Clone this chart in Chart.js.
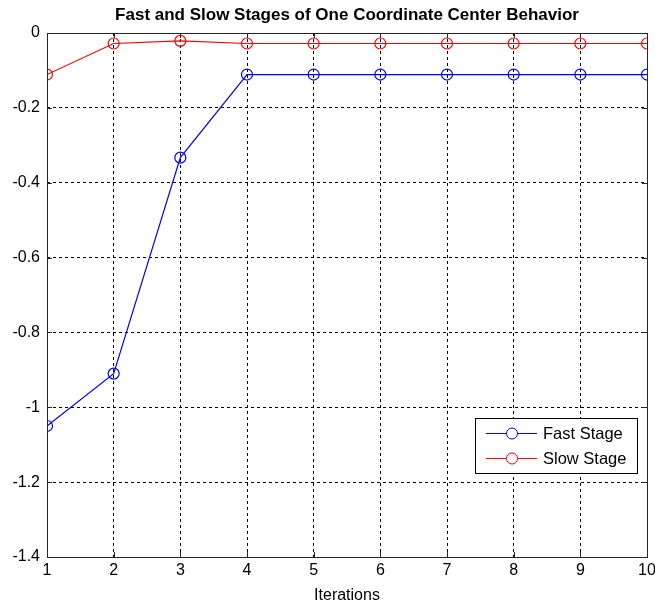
<!DOCTYPE html>
<html><head><meta charset="utf-8">
<script src="https://cdn.jsdelivr.net/npm/chart.js@4.4.1/dist/chart.umd.min.js"></script>
<style>html,body{margin:0;padding:0;background:#fff}#wrap{width:655px;height:605px}</style>
</head><body><div id="wrap"><canvas id="c" width="655" height="605"></canvas></div>
<script>
const iterations = [1,2,3,4,5,6,7,8,9,10];
const fastStage = [-1.05,-0.91,-0.333,-0.111,-0.111,-0.111,-0.111,-0.111,-0.111,-0.111];
const slowStage = [-0.111,-0.028,-0.021,-0.028,-0.028,-0.028,-0.028,-0.028,-0.028,-0.028];
const yTicks = [0,-0.2,-0.4,-0.6,-0.8,-1,-1.2,-1.4];
const titleText = 'Fast and Slow Stages of One Coordinate Center Behavior';
const xTitle = 'Iterations';
const seriesNames = ['Fast Stage','Slow Stage'];
const seriesColors = ['#0000ff','#ff0000'];

const FONT = '"Liberation Sans", Arial, sans-serif';

const bgPlugin = {
  id:'bg',
  beforeDraw(chart){const c=chart.ctx;c.save();c.fillStyle='#fff';c.fillRect(0,0,chart.width,chart.height);c.restore();}
};
const framePlugin = {
  id:'frame',
  afterDraw(chart){
    const c=chart.ctx, a=chart.chartArea, xs=chart.scales.x, ys=chart.scales.y;
    c.save();
    c.strokeStyle='#262626'; c.lineWidth=1; c.setLineDash([]);
    c.strokeRect(Math.round(a.left)+0.5, Math.round(a.top)+0.5, Math.round(a.right-a.left), Math.round(a.bottom-a.top));
    c.beginPath();
    iterations.forEach(v=>{const x=Math.round(xs.getPixelForValue(v))+0.5;
      c.moveTo(x,a.bottom);c.lineTo(x,a.bottom-5);c.moveTo(x,a.top);c.lineTo(x,a.top+5);});
    yTicks.forEach(v=>{const y=Math.round(ys.getPixelForValue(v))+0.5;
      c.moveTo(a.left,y);c.lineTo(a.left+5,y);c.moveTo(a.right,y);c.lineTo(a.right-5,y);});
    c.stroke();
    // title
    c.fillStyle='#000'; c.font='bold 17px '+FONT; c.textAlign='center'; c.textBaseline='alphabetic';
    c.fillText(titleText,(a.left+a.right)/2,20);
    // legend
    const L=475,T=418,W=162,H=55;
    c.fillStyle='#fff'; c.fillRect(L,T,W,H);
    c.strokeStyle='#000'; c.strokeRect(L+0.5,T+0.5,W,H);
    c.font='16.5px '+FONT; c.textAlign='left'; c.textBaseline='middle';
    seriesNames.forEach((n,i)=>{
      const y=433+i*25;
      c.strokeStyle=seriesColors[i]; c.lineWidth=1;
      c.beginPath();c.moveTo(486,y+0.5);c.lineTo(537,y+0.5);c.stroke();
      c.beginPath();c.arc(512,y+0.5,5.5,0,Math.PI*2);c.fillStyle='#fff';c.fill();c.stroke();
      c.fillStyle='#000'; c.fillText(n,543,y+1);
    });
    c.restore();
  }
};

new Chart(document.getElementById('c'),{
  type:'line',
  data:{datasets:[
    {label:seriesNames[0],data:iterations.map((x,i)=>({x,y:fastStage[i]})),borderColor:seriesColors[0],borderWidth:1.2,
     pointRadius:5.5,pointBorderWidth:1.2,pointBorderColor:seriesColors[0],pointBackgroundColor:'rgba(0,0,0,0)',tension:0},
    {label:seriesNames[1],data:iterations.map((x,i)=>({x,y:slowStage[i]})),borderColor:seriesColors[1],borderWidth:1.2,
     pointRadius:5.5,pointBorderWidth:1.2,pointBorderColor:seriesColors[1],pointBackgroundColor:'rgba(0,0,0,0)',tension:0}
  ]},
  options:{
    responsive:false,animation:false,
    layout:{padding:{top:33,right:8,left:0,bottom:0}},
    plugins:{legend:{display:false},title:{display:false},tooltip:{enabled:false}},
    scales:{
      x:{type:'linear',min:1,max:10,
        afterBuildTicks(s){s.ticks=iterations.map(v=>({value:v}));},
        afterFit(s){s.height=48;s.paddingRight=0;s.paddingLeft=0;},
        ticks:{color:'#000',font:{family:FONT,size:16},padding:4,maxRotation:0,autoSkip:false},
        grid:{color:'#000',lineWidth:1,drawTicks:false},
        border:{display:false,dash:[3,3]},
        title:{display:true,text:xTitle,color:'#000',font:{family:FONT,size:16},padding:{top:2,bottom:0}}
      },
      y:{type:'linear',min:-1.4,max:0,
        afterBuildTicks(s){s.ticks=yTicks.map(v=>({value:v}));},
        afterFit(s){s.width=47;s.paddingTop=0;s.paddingBottom=0;},
        ticks:{color:'#000',font:{family:FONT,size:16},padding:7,callback:v=>String(Math.round(v*10)/10)},
        grid:{color:'#000',lineWidth:1,drawTicks:false},
        border:{display:false,dash:[3,3]}
      }
    }
  },
  plugins:[bgPlugin,framePlugin]
});
</script></body></html>
